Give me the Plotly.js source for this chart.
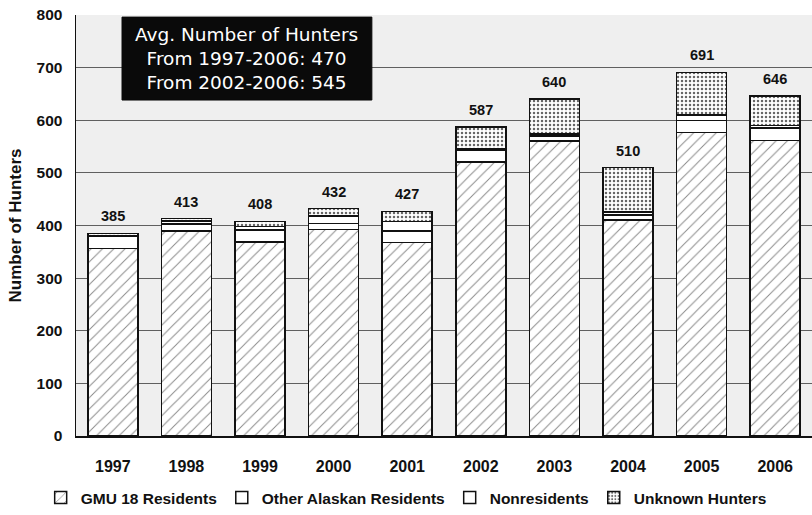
<!DOCTYPE html>
<html>
<head>
<meta charset="utf-8">
<script src="https://cdn.plot.ly/plotly-3.0.1.min.js"></script>
<style>html,body{margin:0;padding:0;background:#fff;}#chart{width:812px;height:515px;}</style>
</head>
<body>
<div id="chart"></div>
<script>
const years = ['1997','1998','1999','2000','2001','2002','2003','2004','2005','2006'];
const gmu18Residents = [356, 390, 369, 392, 368, 521, 561, 410, 577, 562];
const otherAlaskanResidents = [23, 13, 22, 12, 22, 22, 9, 10, 23, 23];
const nonresidents = [2, 6, 7, 14, 18, 2, 4, 6, 10, 5];
const unknownHunters = [4, 4, 10, 14, 19, 42, 66, 84, 81, 56];
const totals = [385, 413, 408, 432, 427, 587, 640, 510, 691, 646];
const boxLines = ['Avg. Number of Hunters', 'From 1997-2006: 470', 'From 2002-2006: 545'];

const FONT = 'Liberation Sans, Arial, sans-serif';
const line = {color: '#111', width: 1.5};

const traces = [
  {name: 'GMU 18 Residents', x: years, y: gmu18Residents, type: 'bar',
   marker: {color: '#ffffff', line: line,
     pattern: {shape: '/', fgcolor: '#8a8a8a', bgcolor: '#ffffff', size: 8, solidity: 0.12}}},
  {name: 'Other Alaskan Residents', x: years, y: otherAlaskanResidents, type: 'bar',
   marker: {color: '#ffffff', line: line}},
  {name: 'Nonresidents', x: years, y: nonresidents, type: 'bar',
   marker: {color: '#ffffff', line: line}},
  {name: 'Unknown Hunters', x: years, y: unknownHunters, type: 'bar',
   marker: {color: '#ffffff', line: line,
     pattern: {shape: '.', fgcolor: '#666', bgcolor: '#ffffff', size: 4, solidity: 0.3}}}
];

const annotations = years.map((yr, i) => ({
  x: i, y: totals[i], xref: 'x', yref: 'y', text: String(totals[i]),
  showarrow: false, yanchor: 'bottom', yshift: 7,
  font: {family: FONT, size: 14.5, color: '#111', weight: 'bold'}
}));
annotations.push({
  xref: 'paper', yref: 'paper', x: 0.232, y: 0.897, xanchor: 'center', yanchor: 'middle',
  text: boxLines.join('<br>'), showarrow: false, align: 'center',
  font: {family: 'DejaVu Sans, sans-serif', size: 18.5, color: '#ffffff'}
});

const layout = {
  width: 812, height: 515,
  margin: {l: 76, r: 0, t: 15, b: 79},
  paper_bgcolor: '#ffffff',
  plot_bgcolor: '#efefef',
  barmode: 'stack', bargap: 0.32,
  showlegend: true,
  legend: {orientation: 'h', x: -0.048, xanchor: 'left', y: -0.148, yanchor: 'middle',
    font: {family: FONT, size: 15.5, color: '#111', weight: 'bold'},
    itemwidth: 30, traceorder: 'normal', bgcolor: 'rgba(0,0,0,0)'},
  xaxis: {type: 'category', range: [-0.5, 9.5], showgrid: false,
    showline: true, linecolor: '#111', linewidth: 1.5, ticks: '',
    tickfont: {family: FONT, size: 16, color: '#111', weight: 'bold'}, ticklabelstandoff: 15},
  yaxis: {range: [0, 800], dtick: 100, showgrid: true, gridcolor: '#5f5f5f', gridwidth: 1,
    showline: true, linecolor: '#111', linewidth: 1.5, ticks: '', zeroline: false,
    tickfont: {family: FONT, size: 15.5, color: '#111', weight: 'bold'}, ticklabelstandoff: 9,
    title: {text: 'Number of Hunters', standoff: 10,
      font: {family: FONT, size: 17, color: '#111', weight: 'bold'}}},
  shapes: [{type: 'rect', xref: 'paper', yref: 'paper', x0: 0.0625, x1: 0.402, y0: 0.798, y1: 0.995,
    fillcolor: '#0a0a0a', line: {color: '#0a0a0a', width: 1}, layer: 'above'}],
  annotations: annotations
};

Plotly.newPlot('chart', traces, layout, {displayModeBar: false, staticPlot: true});
</script>
</body>
</html>
